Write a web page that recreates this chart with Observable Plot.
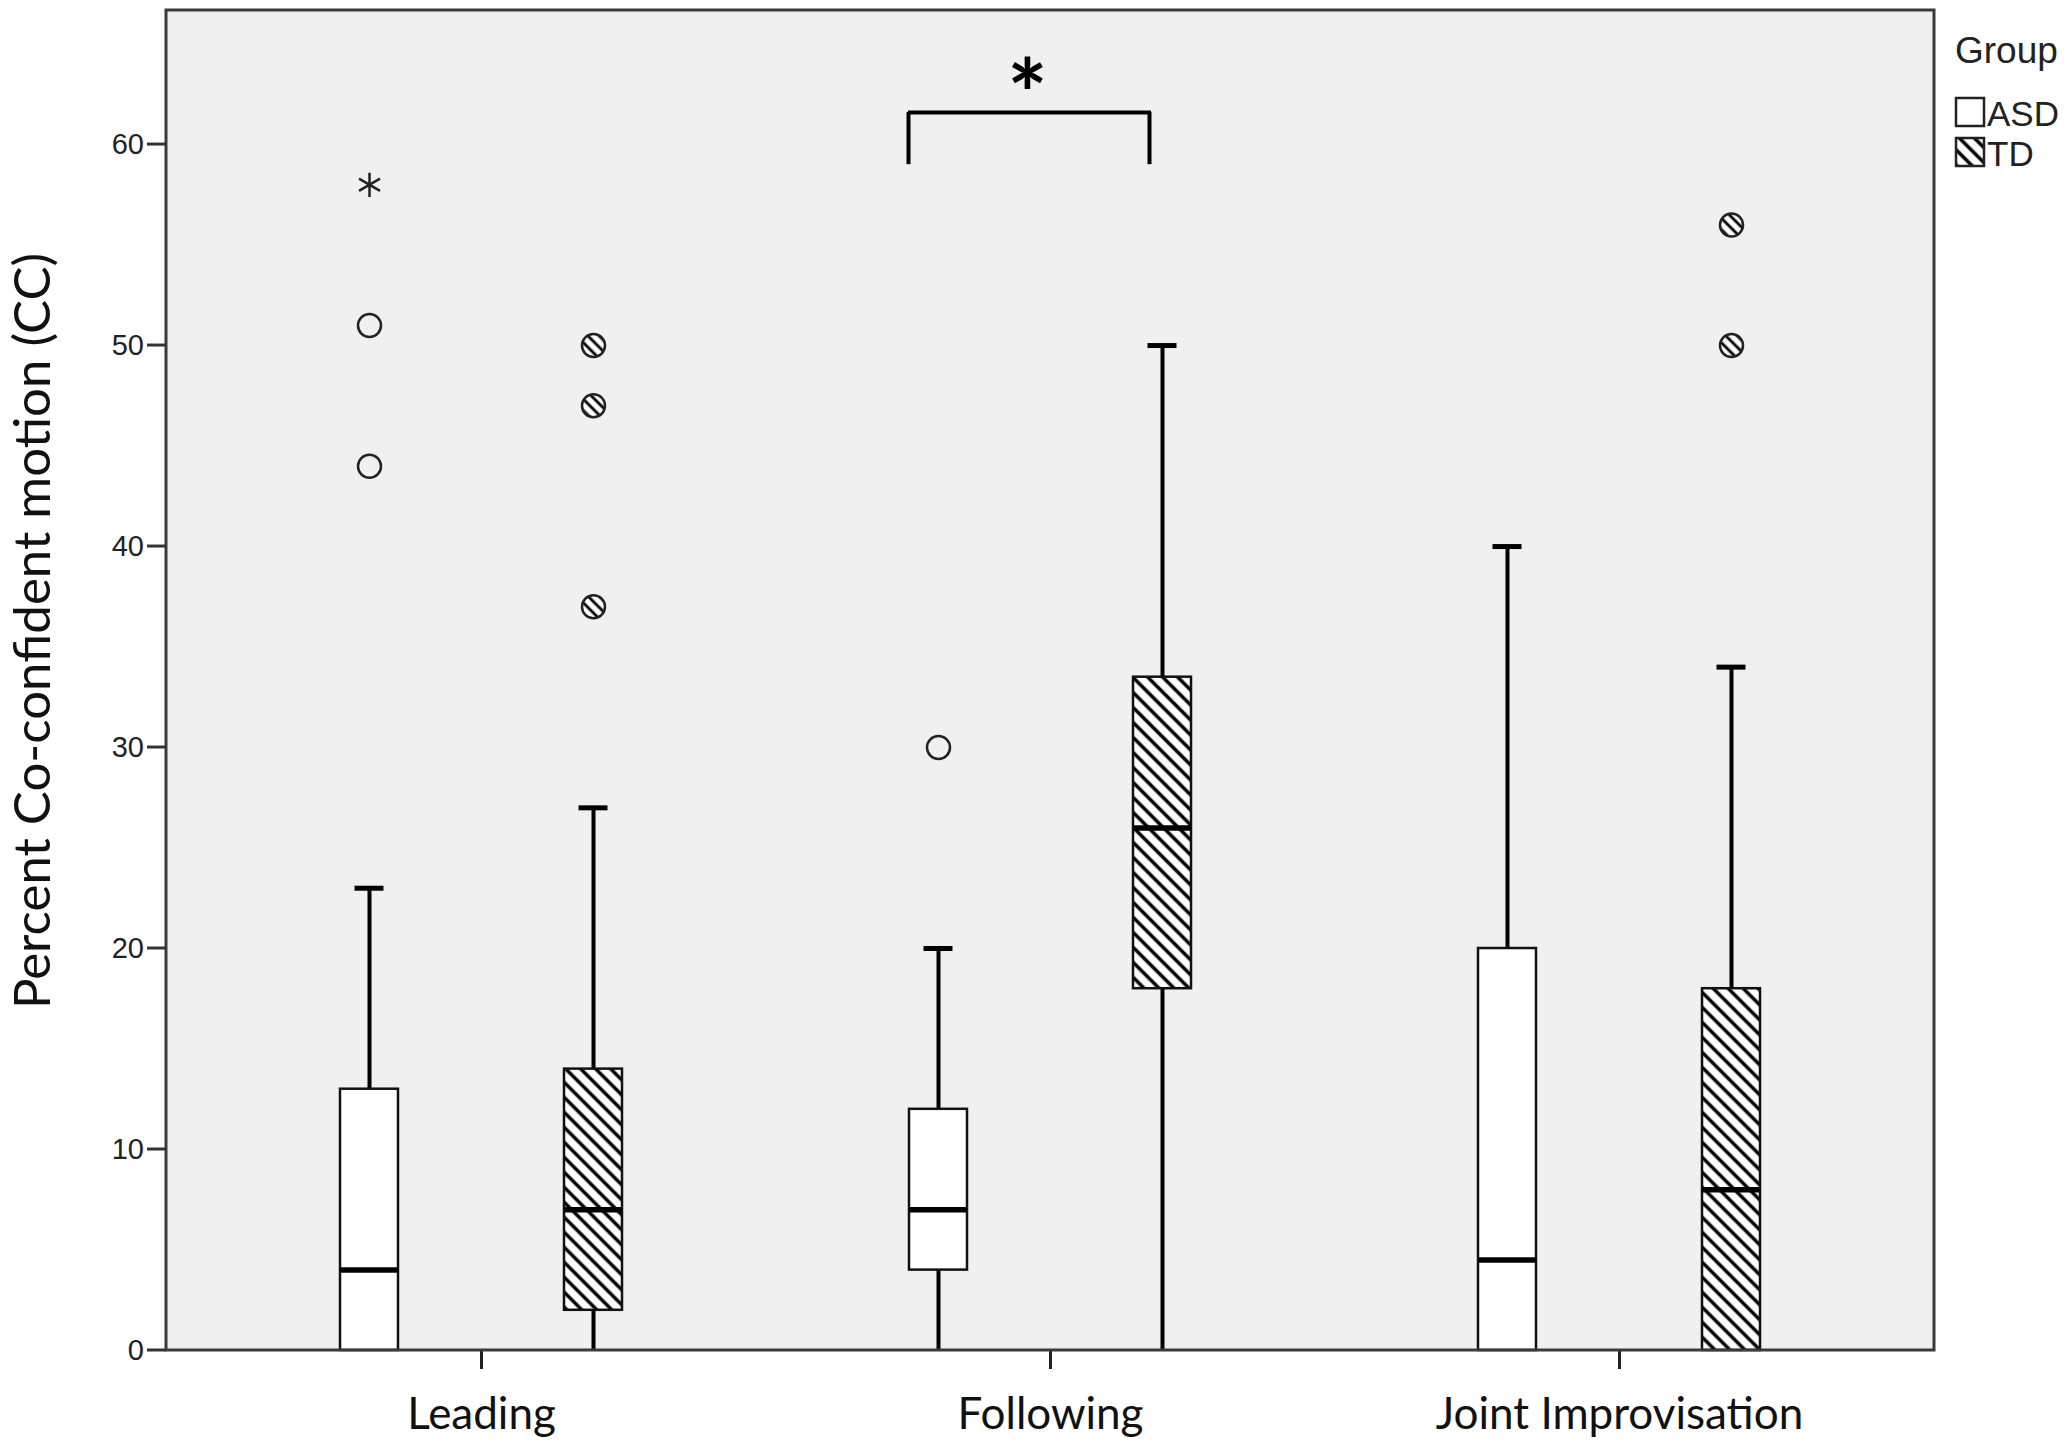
<!DOCTYPE html>
<html><head><meta charset="utf-8">
<script src="https://cdn.jsdelivr.net/npm/d3@7"></script>
<script src="https://cdn.jsdelivr.net/npm/@observablehq/plot@0.6"></script>
<style>html,body{margin:0;padding:0;background:#fff;overflow:hidden}</style>
</head><body><div id="chart"></div>
<script>
const categories = ["Leading", "Following", "Joint Improvisation"];
const groups = ["ASD", "TD"];
const asdMin = [0, 0, 0];
const asdQ1 = [0, 4, 0];
const asdMedian = [4, 7, 4.5];
const asdQ3 = [13, 12, 20];
const asdMax = [23, 20, 40];
const tdMin = [0, 0, 0];
const tdQ1 = [2, 18, 0];
const tdMedian = [7, 26, 8];
const tdQ3 = [14, 33.5, 18];
const tdMax = [27, 50, 34];
const outlierCategory = ["Leading", "Leading", "Leading", "Leading", "Leading", "Leading", "Following", "Joint Improvisation", "Joint Improvisation"];
const outlierGroup = ["ASD", "ASD", "ASD", "TD", "TD", "TD", "ASD", "TD", "TD"];
const outlierValue = [44, 51, 58, 37, 47, 50, 30, 50, 56];
const outlierKind = ["outlier", "outlier", "extreme", "outlier", "outlier", "outlier", "outlier", "outlier", "outlier"];
const yTicks = [0, 10, 20, 30, 40, 50, 60];
const yMax = 66.67;
const yTitle = "Percent Co-confident motion (CC)";
const legendTitle = "Group";
const sigCategory = ["Following"];
const sigFrom = ["ASD"];
const sigTo = ["TD"];
const sigLow = [59];
const sigHigh = [61.6];
const sigLabelY = [62.3];
const sigLabel = ["*"];

const boxes = [];
categories.forEach((c, i) => {
  boxes.push({category: c, group: "ASD", min: asdMin[i], q1: asdQ1[i], median: asdMedian[i], q3: asdQ3[i], max: asdMax[i]});
  boxes.push({category: c, group: "TD", min: tdMin[i], q1: tdQ1[i], median: tdMedian[i], q3: tdQ3[i], max: tdMax[i]});
});
const outliers = outlierValue.map((v, i) => ({category: outlierCategory[i], group: outlierGroup[i], value: v, kind: outlierKind[i]}));
const sig = sigCategory.map((c, i) => ({category: c, from: sigFrom[i], to: sigTo[i], low: sigLow[i], high: sigHigh[i], ly: sigLabelY[i], label: sigLabel[i]}));

const W = 2067, H = 1445;
const mL = 166, mR = 133, mT = 10, mB = 95;

const plot = Plot.plot({
  width: W, height: H,
  marginLeft: mL, marginRight: mR, marginTop: mT, marginBottom: mB,
  facet: {marginTop: 0, marginBottom: 0, marginLeft: 0, marginRight: 0},
  style: {background: "transparent", overflow: "visible"},
  fx: {domain: categories, paddingInner: 0.1, paddingOuter: 0.1022, label: null},
  x: {domain: groups, paddingInner: 0.742, paddingOuter: 0.51, axis: null},
  y: {domain: [0, yMax], axis: null},
  marks: [
    Plot.ruleX(boxes, {fx: "category", x: "group", y1: "min", y2: "q1", stroke: "#000", strokeWidth: 4}),
    Plot.ruleX(boxes, {fx: "category", x: "group", y1: "q3", y2: "max", stroke: "#000", strokeWidth: 4}),
    Plot.tickY(boxes, {fx: "category", x: "group", y: "max", stroke: "#000", strokeWidth: 5, insetLeft: 14.5, insetRight: 14.5}),
    Plot.barY(boxes.filter(d => d.group === "ASD"), {fx: "category", x: "group", y1: "q1", y2: "q3", fill: "#fff", stroke: "#111", strokeWidth: 2.5}),
    Plot.barY(boxes.filter(d => d.group === "TD"), {fx: "category", x: "group", y1: "q1", y2: "q3", fill: "url(#hatch)", stroke: "#111", strokeWidth: 2.5}),
    Plot.tickY(boxes, {fx: "category", x: "group", y: "median", stroke: "#000", strokeWidth: 5.5}),
    Plot.dot(outliers.filter(d => d.kind === "outlier" && d.group === "ASD"), {fx: "category", x: "group", y: "value", r: 11.5, fill: "none", stroke: "#222", strokeWidth: 2.5}),
    Plot.dot(outliers.filter(d => d.kind === "outlier" && d.group === "TD"), {fx: "category", x: "group", y: "value", r: 11.5, fill: "url(#hatchDot)", stroke: "#222", strokeWidth: 2.5}),
    Plot.dot(outliers.filter(d => d.kind === "extreme"), {fx: "category", x: "group", y: "value", r: 11.5, symbol: "asterisk", stroke: "#222", strokeWidth: 2.5}),
    Plot.ruleX(sig, {fx: "category", x: "from", y1: "low", y2: "high", dx: -30, stroke: "#000", strokeWidth: 4}),
    Plot.ruleX(sig, {fx: "category", x: "to", y1: "low", y2: "high", dx: -13, stroke: "#000", strokeWidth: 4}),
    Plot.ruleY(sig, {fx: "category", x1: "from", x2: "to", y: "high", insetLeft: -1, insetRight: 40, stroke: "#000", strokeWidth: 4}),
    Plot.text(sig, {fx: "category", y: "ly", text: "label", dx: -23, fontSize: 95, fontWeight: "bold", fontFamily: "Lato", fill: "#000"}),
    Plot.axisFx({anchor: "bottom", tickSize: 19, tickPadding: 28, fontSize: 44, fontFamily: "Lato", label: null, stroke: "#222", strokeWidth: 3, fill: "#111"})
  ]
});

document.getElementById("chart").appendChild(plot);
const svg = d3.select(plot);
const defs = svg.insert("defs", ":first-child");
function hatch(id, p, sw) {
  const pat = defs.append("pattern").attr("id", id).attr("patternUnits", "userSpaceOnUse")
    .attr("width", p).attr("height", p).attr("patternTransform", "rotate(45)");
  pat.append("rect").attr("width", p).attr("height", p).attr("fill", "#fff");
  pat.append("line").attr("x1", 0).attr("x2", p).attr("y1", p / 2).attr("y2", p / 2)
    .attr("stroke", "#000").attr("stroke-width", sw);
}
hatch("hatch", 10.6, 3.5);
hatch("hatchDot", 8, 2.8);

// plot background and frame
svg.insert("rect", "defs + *").attr("x", mL).attr("y", mT).attr("width", W - mL - mR).attr("height", H - mT - mB)
  .attr("fill", "#f0f0f0");
svg.append("rect").attr("x", mL).attr("y", mT).attr("width", W - mL - mR).attr("height", H - mT - mB)
  .attr("fill", "none").attr("stroke", "#3a3a3a").attr("stroke-width", 3);

// y axis, positioned with the plot's own y scale along the whole frame
const y = plot.scale("y");
const ya = svg.append("g").attr("font-family", "Liberation Sans").attr("font-size", 29).attr("fill", "#222");
yTicks.forEach(t => {
  const py = y.apply(t);
  ya.append("line").attr("x1", mL - 19).attr("x2", mL).attr("y1", py).attr("y2", py)
    .attr("stroke", "#333").attr("stroke-width", 3);
  ya.append("text").attr("x", mL - 22).attr("y", py).attr("dy", "0.35em").attr("text-anchor", "end").text(t);
});

// y title
svg.append("text").attr("transform", `translate(50,631) rotate(-90)`).attr("text-anchor", "middle")
  .attr("font-family", "Lato").attr("font-size", 51).attr("fill", "#111").text(yTitle);

// legend
const lg = svg.append("g").attr("font-family", "Liberation Sans").attr("fill", "#222").attr("text-anchor", "start");
lg.append("text").attr("x", 1955).attr("y", 63).attr("font-size", 37).text(legendTitle);
groups.forEach((g, i) => {
  lg.append("rect").attr("x", 1956).attr("y", 98 + i * 40).attr("width", 28).attr("height", 28)
    .attr("fill", g === "TD" ? "url(#hatch)" : "#fff").attr("stroke", "#222").attr("stroke-width", 2.5);
  lg.append("text").attr("x", 1987).attr("y", 126 + i * 40).attr("font-size", 35).text(g);
});
</script></body></html>
